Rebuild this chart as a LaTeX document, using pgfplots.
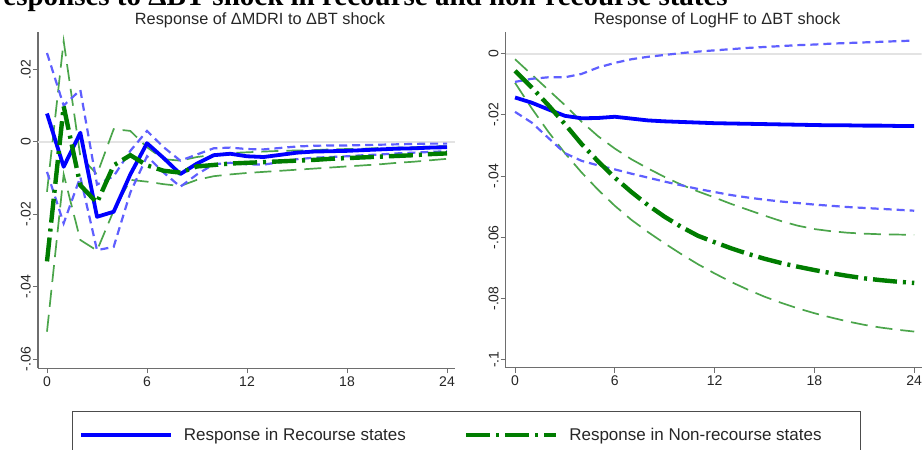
\documentclass[border=0pt]{standalone}
\usepackage{fontspec}
\setmainfont{Liberation Sans}
\newfontfamily\titleserif{Liberation Serif}
\usepackage{pgfplots}
\usepackage{pgfplotstable}
\pgfplotsset{compat=1.18}

\definecolor{sblue}{RGB}{0,0,255}
\definecolor{lblue}{RGB}{95,95,255}
\definecolor{sgreen}{RGB}{0,125,0}
\definecolor{lgreen}{RGB}{75,165,75}
\definecolor{axgray}{RGB}{110,110,110}

% Left panel: Response of dMDRI
\pgfplotstableread{
h mid lo hi
0 0.0078 -0.0083 0.0245
1 -0.0069 -0.0225 0.0100
2 0.0025 -0.0097 0.0143
3 -0.0207 -0.0299 -0.0118
4 -0.0193 -0.0290 -0.0095
5 -0.0090 -0.0140 -0.0025
6 -0.0004 -0.0040 0.0030
7 -0.0045 -0.0085 -0.0015
8 -0.0089 -0.0124 -0.0052
9 -0.0060 -0.0090 -0.0035
10 -0.0037 -0.0062 -0.0018
11 -0.0033 -0.0058 -0.0016
12 -0.0040 -0.0062 -0.0020
13 -0.0042 -0.0063 -0.0021
14 -0.0036 -0.0056 -0.0017
15 -0.0030 -0.0048 -0.0013
16 -0.0027 -0.0044 -0.0011
17 -0.0026 -0.0042 -0.0010
18 -0.0025 -0.0040 -0.0010
19 -0.0023 -0.0037 -0.0009
20 -0.0021 -0.0035 -0.0008
21 -0.0019 -0.0032 -0.0007
22 -0.0018 -0.0030 -0.0006
23 -0.0016 -0.0028 -0.0005
24 -0.0015 -0.0026 -0.0005
}\LR

\pgfplotstableread{
h mid lo hi
0 -0.0330 -0.0524 -0.0138
1 0.0098 -0.0090 0.0278
2 -0.0120 -0.0271 -0.0040
3 -0.0168 -0.0300 -0.0090
4 -0.0065 -0.0190 0.0035
5 -0.0037 -0.0105 0.0030
6 -0.0065 -0.0110 -0.0015
7 -0.0080 -0.0117 -0.0048
8 -0.0085 -0.0122 -0.0052
9 -0.0068 -0.0105 -0.0042
10 -0.0064 -0.0095 -0.0036
11 -0.0060 -0.0090 -0.0031
12 -0.0058 -0.0086 -0.0029
13 -0.0056 -0.0083 -0.0027
14 -0.0054 -0.0080 -0.0025
15 -0.0052 -0.0077 -0.0024
16 -0.0050 -0.0074 -0.0023
17 -0.0047 -0.0071 -0.0021
18 -0.0045 -0.0068 -0.0020
19 -0.0043 -0.0065 -0.0019
20 -0.0041 -0.0062 -0.0017
21 -0.0039 -0.0058 -0.0016
22 -0.0037 -0.0055 -0.0015
23 -0.0034 -0.0051 -0.0013
24 -0.0032 -0.0047 -0.0012
}\LN

% Right panel: Response of LogHF
\pgfplotstableread{
h mid lo hi
0 -0.0143 -0.0190 -0.0092
1 -0.0160 -0.0225 -0.0082
2 -0.0182 -0.0275 -0.0077
3 -0.0203 -0.0325 -0.0077
4 -0.0211 -0.0350 -0.0066
5 -0.0210 -0.0365 -0.0045
6 -0.0206 -0.0378 -0.0030
7 -0.0212 -0.0392 -0.0018
8 -0.0218 -0.0405 -0.0010
9 -0.0221 -0.0418 -0.0004
10 -0.0223 -0.0430 0.0002
11 -0.0225 -0.0442 0.0007
12 -0.0227 -0.0452 0.0011
13 -0.0228 -0.0462 0.0015
14 -0.0229 -0.0470 0.0019
15 -0.0230 -0.0477 0.0022
16 -0.0231 -0.0483 0.0025
17 -0.0232 -0.0488 0.0028
18 -0.0233 -0.0493 0.0030
19 -0.0234 -0.0497 0.0033
20 -0.0234 -0.0501 0.0035
21 -0.0235 -0.0504 0.0037
22 -0.0235 -0.0507 0.0039
23 -0.0236 -0.0510 0.0041
24 -0.0236 -0.0513 0.0043
}\RR

\pgfplotstableread{
h mid lo hi
0 -0.0056 -0.0095 -0.0018
1 -0.0110 -0.0178 -0.0068
2 -0.0168 -0.0255 -0.0118
3 -0.0230 -0.0325 -0.0168
4 -0.0295 -0.0388 -0.0222
5 -0.0352 -0.0445 -0.0270
6 -0.0405 -0.0497 -0.0310
7 -0.0452 -0.0543 -0.0345
8 -0.0495 -0.0583 -0.0375
9 -0.0533 -0.0620 -0.0403
10 -0.0566 -0.0655 -0.0428
11 -0.0595 -0.0688 -0.0450
12 -0.0616 -0.0718 -0.0470
13 -0.0636 -0.0746 -0.0491
14 -0.0654 -0.0771 -0.0510
15 -0.0670 -0.0794 -0.0529
16 -0.0684 -0.0814 -0.0547
17 -0.0696 -0.0832 -0.0562
18 -0.0707 -0.0848 -0.0573
19 -0.0717 -0.0862 -0.0580
20 -0.0726 -0.0875 -0.0585
21 -0.0734 -0.0886 -0.0588
22 -0.0740 -0.0895 -0.0590
23 -0.0745 -0.0902 -0.0591
24 -0.0749 -0.0908 -0.0592
}\RN

\pgfplotsset{
  irf/.style={
    scale only axis,
    anchor=south west,
    axis x line*=bottom,
    axis y line*=left,
    axis line style={-, axgray, line width=1.1bp},
    tick style={axgray, line width=1bp},
    tick align=outside,
    major tick length=5bp,
    xtick={0,6,12,18,24},
    scaled y ticks=false,
    tick label style={font=\fontsize{14bp}{16bp}\selectfont, text=black!85},
    yticklabel style={rotate=90, anchor=south, inner sep=2bp},
    xticklabel style={inner sep=3bp},
    /pgf/number format/assume math mode=true,
    legend image code/.code={\draw[##1] (0bp,0bp) -- (90bp,0bp);},
  },
  ciR/.style={lblue, line width=2.2bp, dash pattern=on 8bp off 5bp},
  ciN/.style={lgreen, line width=1.7bp, dash pattern=on 17bp off 8bp},
  midR/.style={sblue, line width=3.8bp, line join=round},
  midN/.style={sgreen, line width=4.4bp, dash pattern=on 24bp off 6bp on 3bp off 6bp},
}

\begin{document}
\begin{tikzpicture}[x=1bp,y=1bp]
\useasboundingbox (0,0) rectangle (923,450);

% overall (cut) title
\node[anchor=base east, inner sep=0, font=\titleserif\bfseries\fontsize{29bp}{32bp}\selectfont] at (728,444) {Impulse responses to ΔBT shock in recourse and non-recourse states};

% panel titles
\node[anchor=base, inner sep=0, font=\fontsize{16.3bp}{18bp}\selectfont, text=black!85] at (260,425.5) {Response of ΔMDRI to ΔBT shock};
\node[anchor=base, inner sep=0, font=\fontsize{16.3bp}{18bp}\selectfont, text=black!85] at (717,425.5) {Response of LogHF to ΔBT shock};

\begin{axis}[irf,
  at={(38bp,81.7bp)}, width=417bp, height=336.3bp,
  xmin=-0.54, xmax=24.48, ymin=-0.0625, ymax=0.0303,
  ytick={-0.06,-0.04,-0.02,0,0.02},
  yticklabels={-.06,-.04,-.02,0,.02},
  legend columns=2,
  legend style={at={(0.098,-0.1983)}, anchor=west, draw=none, fill=none, inner sep=0pt,
    font=\fontsize{17bp}{19bp}\selectfont, text=black!85,
    /tikz/every odd column/.append style={column sep=9bp},
    /tikz/every even column/.append style={column sep=56bp}},
]
\addplot[gray!22, line width=1.6bp, forget plot] coordinates {(-0.54,0) (24.48,0)};
\addplot[ciN, forget plot] table[x=h,y=lo] {\LN};
\addplot[ciN, forget plot] table[x=h,y=hi] {\LN};
\addplot[ciR, forget plot] table[x=h,y=lo] {\LR};
\addplot[ciR, forget plot] table[x=h,y=hi] {\LR};
\addplot[midR] table[x=h,y=mid] {\LR};
\addlegendentry{Response in Recourse states}
\addplot[midN] table[x=h,y=mid] {\LN};
\addlegendentry{Response in Non-recourse states}
\end{axis}

\begin{axis}[irf,
  at={(505.7bp,82.3bp)}, width=416bp, height=336bp,
  xmin=-0.56, xmax=24.45, ymin=-0.1026, ymax=0.0072,
  ytick={-0.1,-0.08,-0.06,-0.04,-0.02,0},
  yticklabels={-.1,-.08,-.06,-.04,-.02,0},
]
\addplot[gray!22, line width=1.6bp] coordinates {(-0.56,0) (24.45,0)};
\addplot[ciN] table[x=h,y=lo] {\RN};
\addplot[ciN] table[x=h,y=hi] {\RN};
\addplot[ciR] table[x=h,y=lo] {\RR};
\addplot[ciR] table[x=h,y=hi] {\RR};
\addplot[midR] table[x=h,y=mid] {\RR};
\addplot[midN] table[x=h,y=mid] {\RN};
\end{axis}

% legend frame
\draw[black!70, line width=1bp] (72,-10) rectangle (860,38);
\end{tikzpicture}
\end{document}
